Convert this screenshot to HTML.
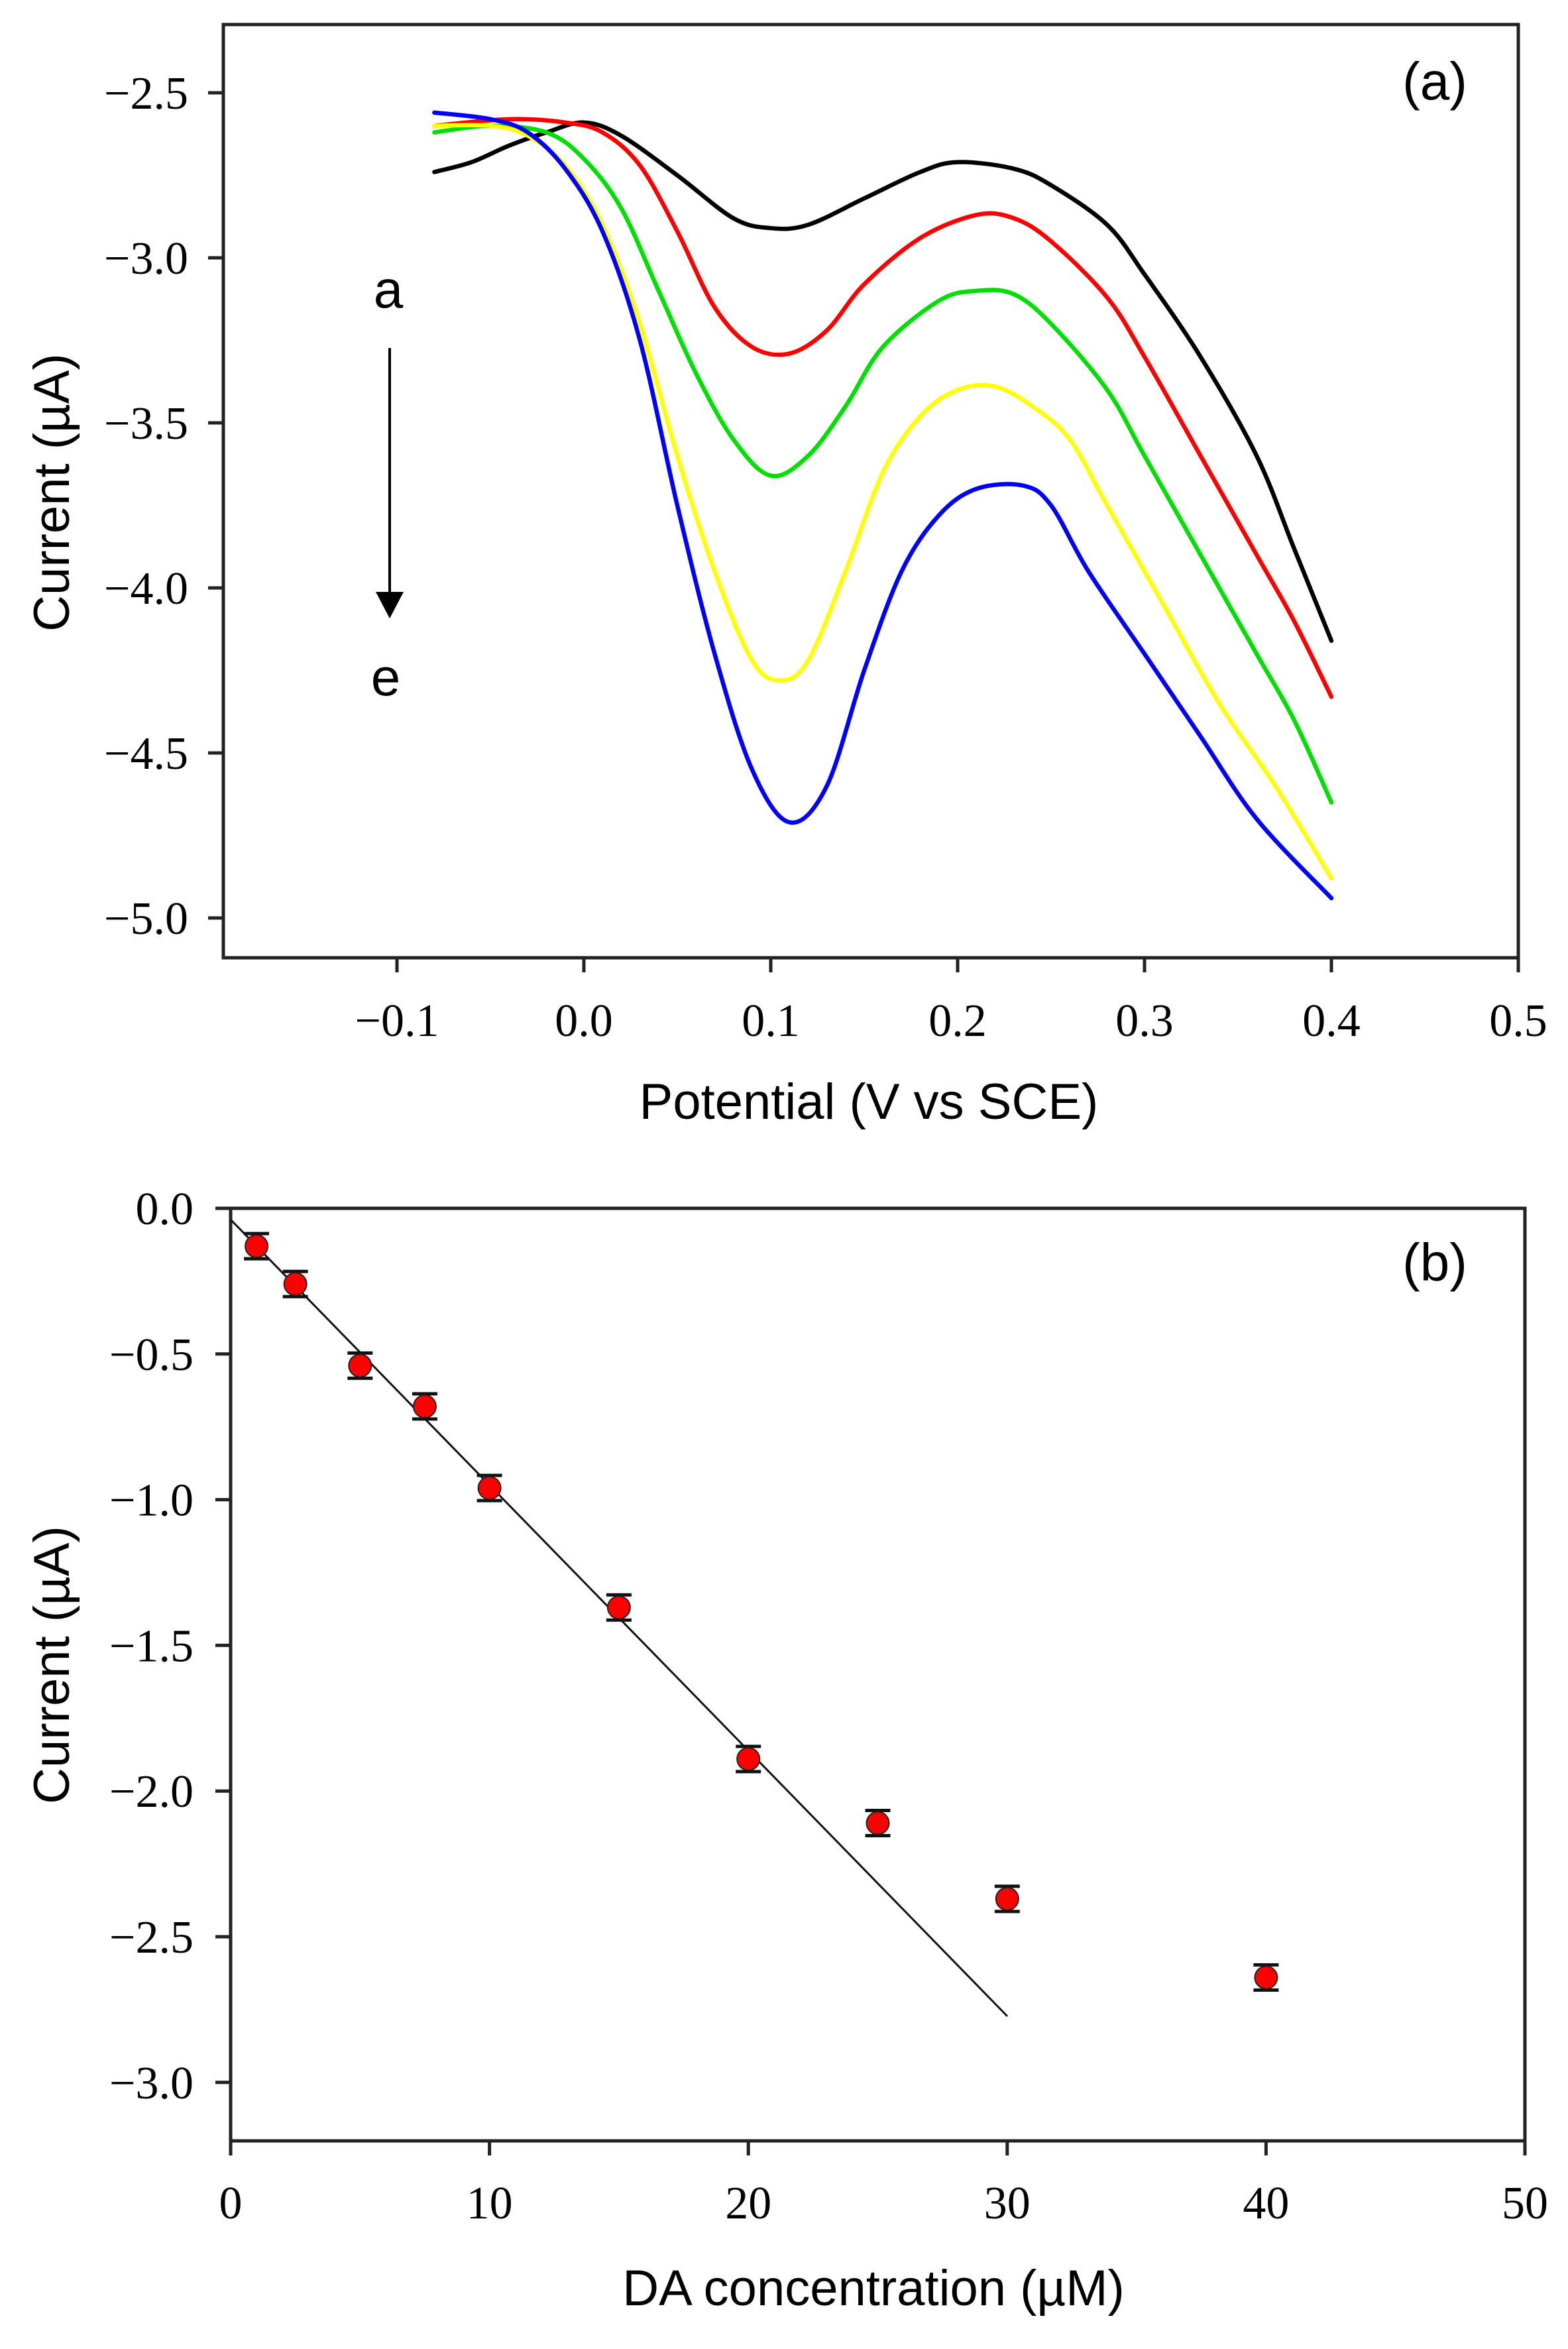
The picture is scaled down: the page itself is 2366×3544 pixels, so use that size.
<!DOCTYPE html>
<html><head><meta charset="utf-8">
<style>
html,body{margin:0;padding:0;background:#fff;}
svg{display:block;}
.t{font-family:"Liberation Serif",serif;font-size:70px;fill:#000;}
.s{font-family:"Liberation Sans",sans-serif;font-size:76px;fill:#000;}
</style></head>
<body>
<svg id="g" width="2366" height="3544" viewBox="0 0 2366 3544" xmlns="http://www.w3.org/2000/svg">
<rect width="2366" height="3544" fill="#fff"/>
<rect x="337" y="37" width="1954" height="1408" fill="none" stroke="#222" stroke-width="5"/>
<g id="aticks" stroke="#222" stroke-width="5"></g>
<g id="alabels"></g>
<g id="acurves" fill="none" stroke-width="6.5" stroke-linejoin="round" stroke-linecap="round"></g>
<text class="s" x="2165" y="150" text-anchor="middle" style="font-size:80px">(a)</text>
<text class="s" x="586" y="464" text-anchor="middle" style="font-size:80px">a</text>
<text class="s" x="582" y="1049" text-anchor="middle" style="font-size:80px">e</text>
<line x1="588" y1="525" x2="588" y2="900" stroke="#000" stroke-width="4"/>
<polygon points="567,893 609,893 588,933" fill="#000"/>
<text class="s" transform="translate(104,743) rotate(-90)" text-anchor="middle">Current (µA)</text>
<text class="s" x="1311" y="1688" text-anchor="middle">Potential (V vs SCE)</text>

<rect x="348" y="1823" width="1953" height="1407" fill="none" stroke="#222" stroke-width="5"/>
<g id="bticks" stroke="#222" stroke-width="5"></g>
<g id="blabels"></g>
<line x1="348" y1="1840" x2="1520" y2="3042" stroke="#111" stroke-width="3"/>
<g id="bpts"></g>
<text class="s" x="2165" y="1932" text-anchor="middle" style="font-size:80px">(b)</text>
<text class="s" transform="translate(104,2512) rotate(-90)" text-anchor="middle">Current (µA)</text>
<text class="s" x="1318" y="3478" text-anchor="middle">DA concentration (µM)</text>
</svg>
<script>
var NS="http://www.w3.org/2000/svg";
function el(p,n,a,txt){var e=document.createElementNS(NS,n);for(var k in a)e.setAttribute(k,a[k]);if(txt!==undefined)e.textContent=txt;document.getElementById(p).appendChild(e);return e;}
function ax(x){return 881+x*2820;} function ay(y){return 140+(-2.5-y)*498;}
[-2.5,-3.0,-3.5,-4.0,-4.5,-5.0].forEach(function(v){var y=ay(v);
 el("aticks","line",{x1:314,y1:y,x2:337,y2:y});
 el("alabels","text",{"class":"t",x:284,y:y+24,"text-anchor":"end"},"\u2212"+Math.abs(v).toFixed(1));});
[-0.1,0,0.1,0.2,0.3,0.4,0.5].forEach(function(v){var x=ax(v);
 el("aticks","line",{x1:x,y1:1445,x2:x,y2:1467});
 el("alabels","text",{"class":"t",x:x,y:1563,"text-anchor":"middle"},(v<0?"\u2212":"")+Math.abs(v).toFixed(1));});
var curves={
"#000":[[-0.08,-2.74],[-0.06,-2.71],[-0.04,-2.66],[-0.02,-2.62],[0,-2.59],[0.02,-2.63],[0.05,-2.75],[0.08,-2.88],[0.1,-2.91],[0.12,-2.9],[0.15,-2.82],[0.18,-2.74],[0.2,-2.71],[0.23,-2.73],[0.25,-2.78],[0.28,-2.9],[0.3,-3.05],[0.33,-3.3],[0.36,-3.6],[0.38,-3.88],[0.4,-4.16]],
"#ff0000":[[-0.08,-2.6],[-0.04,-2.58],[-0.01,-2.59],[0.01,-2.62],[0.03,-2.72],[0.05,-2.92],[0.07,-3.15],[0.09,-3.27],[0.11,-3.29],[0.13,-3.22],[0.15,-3.08],[0.18,-2.94],[0.21,-2.87],[0.23,-2.88],[0.25,-2.95],[0.28,-3.12],[0.3,-3.3],[0.33,-3.6],[0.36,-3.9],[0.38,-4.1],[0.4,-4.33]],
"#00e000":[[-0.08,-2.62],[-0.05,-2.6],[-0.02,-2.62],[0,-2.7],[0.02,-2.85],[0.04,-3.1],[0.06,-3.35],[0.08,-3.55],[0.1,-3.66],[0.12,-3.6],[0.14,-3.45],[0.16,-3.27],[0.19,-3.13],[0.21,-3.1],[0.23,-3.11],[0.25,-3.2],[0.28,-3.4],[0.3,-3.6],[0.33,-3.9],[0.36,-4.2],[0.38,-4.4],[0.4,-4.65]],
"#ffff00":[[-0.08,-2.6],[-0.05,-2.6],[-0.03,-2.63],[-0.01,-2.72],[0.01,-2.9],[0.03,-3.2],[0.05,-3.6],[0.07,-3.95],[0.09,-4.22],[0.105,-4.28],[0.12,-4.22],[0.14,-3.95],[0.16,-3.65],[0.18,-3.48],[0.2,-3.4],[0.22,-3.39],[0.24,-3.45],[0.26,-3.55],[0.28,-3.75],[0.31,-4.05],[0.34,-4.35],[0.37,-4.6],[0.4,-4.88]],
"#0000ff":[[-0.08,-2.56],[-0.05,-2.58],[-0.03,-2.62],[-0.01,-2.73],[0.01,-2.92],[0.03,-3.25],[0.05,-3.75],[0.07,-4.2],[0.09,-4.55],[0.11,-4.71],[0.13,-4.6],[0.15,-4.25],[0.17,-3.95],[0.19,-3.78],[0.21,-3.7],[0.235,-3.69],[0.25,-3.75],[0.27,-3.95],[0.3,-4.2],[0.33,-4.45],[0.36,-4.7],[0.4,-4.94]]};
for(var c in curves){var p=curves[c].map(function(q){return [ax(q[0]),ay(q[1])];});
 var d="M"+p[0][0]+","+p[0][1];
 for(var i=0;i<p.length-1;i++){var p0=p[i-1]||p[i],p1=p[i],p2=p[i+1],p3=p[i+2]||p2;
  d+=" C"+(p1[0]+(p2[0]-p0[0])/6)+","+(p1[1]+(p2[1]-p0[1])/6)+" "+(p2[0]-(p3[0]-p1[0])/6)+","+(p2[1]-(p3[1]-p1[1])/6)+" "+p2[0]+","+p2[1];}
 el("acurves","path",{d:d,stroke:c});}
function bx(x){return 348+x*39.06;} function by(y){return 1823-y*439.6;}
[0,-0.5,-1,-1.5,-2,-2.5,-3].forEach(function(v){var y=by(v);
 el("bticks","line",{x1:325,y1:y,x2:348,y2:y});
 el("blabels","text",{"class":"t",x:292,y:y+24,"text-anchor":"end"},(v<0?"\u2212":"")+Math.abs(v).toFixed(1));});
[0,10,20,30,40,50].forEach(function(v){var x=bx(v);
 el("bticks","line",{x1:x,y1:3230,x2:x,y2:3252});
 el("blabels","text",{"class":"t",x:x,y:3347,"text-anchor":"middle"},""+v);});
[[1,-0.13],[2.5,-0.26],[5,-0.54],[7.5,-0.68],[10,-0.96],[15,-1.37],[20,-1.89],[25,-2.11],[30,-2.37],[40,-2.64]].forEach(function(q){
 var x=bx(q[0]),y=by(q[1]),e=19;
 el("bpts","line",{x1:x,y1:y-e,x2:x,y2:y+e,stroke:"#111","stroke-width":3});
 el("bpts","line",{x1:x-19,y1:y-e,x2:x+19,y2:y-e,stroke:"#111","stroke-width":5});
 el("bpts","line",{x1:x-19,y1:y+e,x2:x+19,y2:y+e,stroke:"#111","stroke-width":5});
 el("bpts","circle",{cx:x,cy:y,r:17,fill:"#ff0000",stroke:"#222","stroke-width":2});});
</script>
</body></html>
